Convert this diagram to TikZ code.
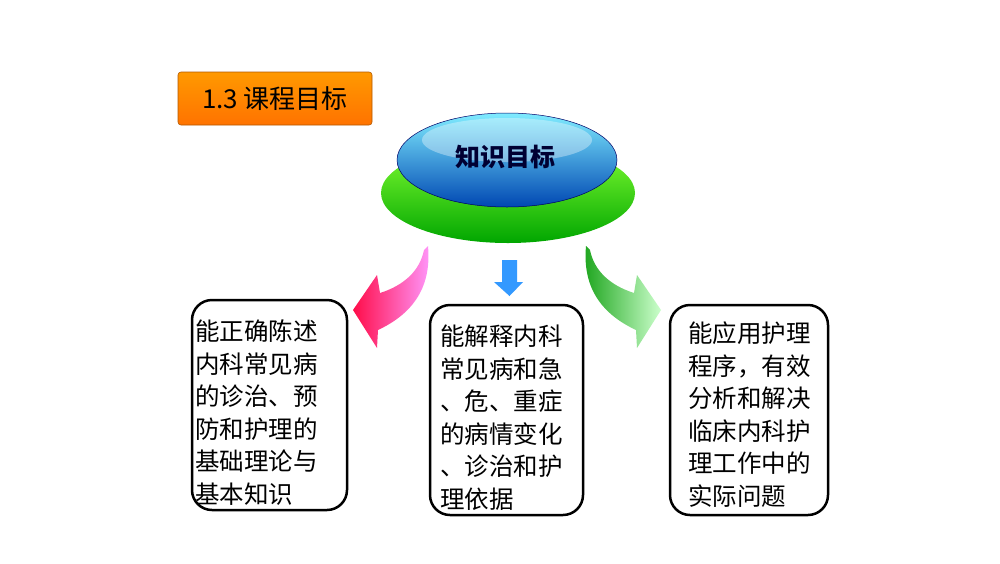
\documentclass[tikz,border=0pt]{standalone}
\usepackage{fontspec}
\newfontfamily\cjk{Noto Sans CJK SC}
\begin{document}
\begin{tikzpicture}[x=1pt,y=-1pt,
  box/.style={draw=black,line width=2.5pt,rounded corners=20pt,fill=white},
  txt/.style={font=\cjk\fontsize{24.5}{32.5}\selectfont,align=left,anchor=north west,inner sep=0pt}]
\useasboundingbox (0,0) rectangle (1000,563);
% title
\node[draw=orange!70!black,line width=0.6pt,rounded corners=3pt,minimum width=194pt,minimum height=53pt,
  top color=orange!80!yellow,bottom color=orange!90!red,inner sep=0pt,
  font=\cjk\fontsize{26}{30}\selectfont] (title) at (275,98.5) {1.3 课程目标};
% ellipses
\shade[top color=green!60!yellow!80,bottom color=green!65!black] (508,193) ellipse (127 and 50);
\shade[top color=blue!15!cyan!50,bottom color=blue!60!cyan!70!black,draw=blue!40!black,line width=0.5pt] (507,160) ellipse (110 and 47);
\fill[white,opacity=0.35] (507,140) ellipse (85 and 22);
\node[font=\cjk\bfseries\fontsize{25}{28}\selectfont,text=blue!20!black] (goal) at (505,157) {知识目标};
% pink arrow
\shade[left color=red!75!magenta!95,right color=magenta!40!white]
 (428,246) .. controls (432,290) and (410,315) .. (378,330)
 -- (377,348) -- (353,310) -- (377,275) -- (380,293)
 .. controls (405,285) and (420,270) .. (424,250) -- cycle;
% green arrow
\shade[left color=green!60!black!90,right color=green!20!white]
 (586,246) .. controls (582,290) and (604,315) .. (636,330)
 -- (637,348) -- (661,310) -- (637,275) -- (634,293)
 .. controls (609,285) and (594,270) .. (590,250) -- cycle;
% blue arrow
\fill[blue!50!cyan!80] (502,260) -- (517,260) -- (517,282) -- (523,282) -- (509.5,296) -- (494,282) -- (502,282) -- cycle;
% boxes
\draw[box] (192,300) rectangle (347,510);
\draw[box] (430,305) rectangle (583,515);
\draw[box] (670,305) rectangle (828,515);
\node[txt] (t1) at (195,320) {能正确陈述\\内科常见病\\的诊治、预\\防和护理的\\基础理论与\\基本知识};
\node[txt] (t2) at (440,325) {能解释内科\\常见病和急\\、危、重症\\的病情变化\\、诊治和护\\理依据};
\node[txt] (t3) at (688,322) {能应用护理\\程序，有效\\分析和解决\\临床内科护\\理工作中的\\实际问题};
\end{tikzpicture}
\end{document}
